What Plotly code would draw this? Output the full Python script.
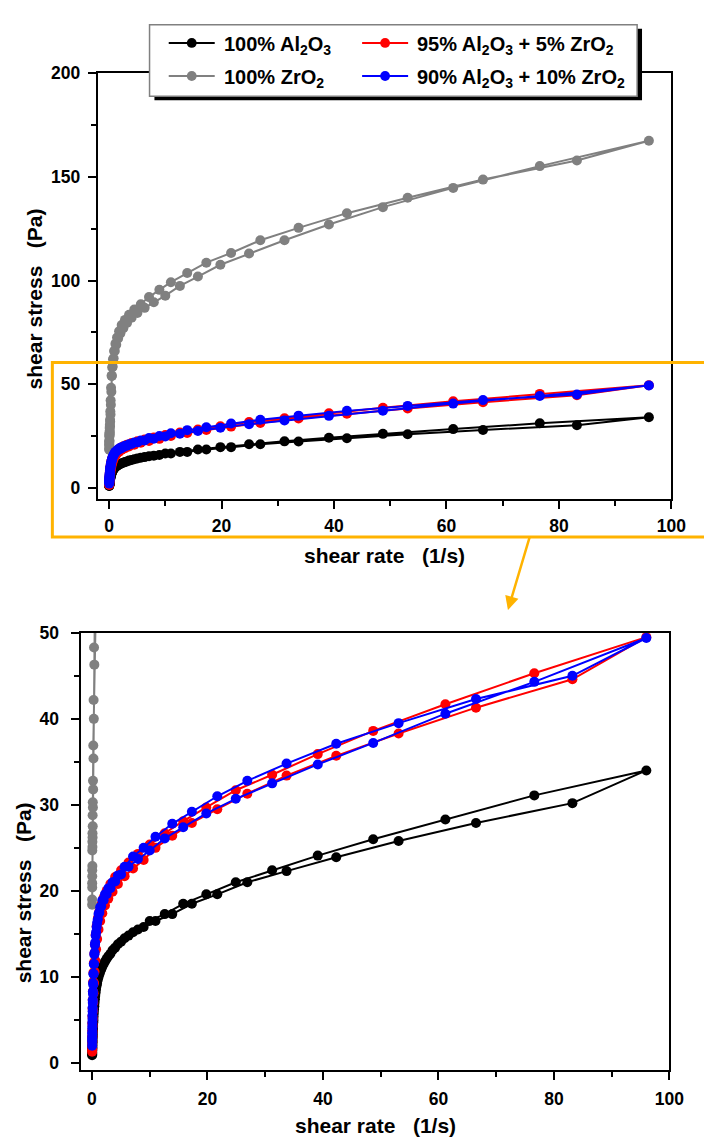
import plotly.graph_objects as go

# ---------------- data ----------------
shear_rate_up = [0.029, 0.036, 0.046, 0.057, 0.072, 0.090, 0.113, 0.142, 0.179, 0.225,
                 0.283, 0.357, 0.449, 0.565, 0.711, 0.895, 1.13, 1.42, 1.79, 2.25,
                 2.83, 3.56, 4.49, 5.65, 7.11, 8.95, 11.0, 13.9, 17.3, 21.7,
                 26.9, 33.7, 42.3, 53.1, 66.5, 83.2]
shear_rate_down = [96.0, 76.6, 61.2, 48.7, 39.1, 31.2, 24.9, 19.8, 15.8, 12.6,
                   10.0, 7.96, 6.33, 5.04, 4.01, 3.19, 2.54, 2.02, 1.61, 1.28,
                   1.02, 0.81, 0.64, 0.51, 0.41, 0.32, 0.26, 0.20, 0.163, 0.130,
                   0.103, 0.082, 0.065, 0.052, 0.041, 0.033]

al2o3_up = [0.9, 1.1, 1.4, 1.7, 2.0, 2.4, 2.9, 3.4, 4.0, 4.7, 5.4, 6.2, 7.0, 7.8, 8.6, 9.3,
            10.0, 10.6, 11.2, 11.8, 12.4, 13.1, 13.8, 14.5, 15.2, 15.8, 16.5, 17.3, 18.5,
            19.6, 21.0, 22.3, 23.9, 25.8, 27.9, 30.2]
al2o3_down = [34.0, 31.1, 28.3, 26.0, 24.1, 22.4, 21.0, 19.6, 18.5, 17.3, 16.5, 15.5, 14.8,
              14.1, 13.4, 12.7, 12.1, 11.5, 10.9, 10.3, 9.7, 9.0, 8.2, 7.4, 6.6, 5.8, 5.0,
              4.3, 3.7, 3.1, 2.6, 2.2, 1.8, 1.5, 1.2, 1.0]

zr5_up = [1.3, 1.6, 2.0, 2.5, 3.0, 3.6, 4.3, 5.1, 6.0, 7.0, 8.1, 9.3, 10.6, 11.9, 13.2, 14.4,
          15.5, 16.5, 17.4, 18.3, 19.1, 19.9, 20.8, 21.7, 22.6, 23.6, 25.0, 26.4, 27.9,
          29.5, 31.3, 33.4, 35.7, 38.3, 41.3, 44.6]
zr5_down = [49.5, 45.3, 41.7, 38.6, 35.9, 33.5, 31.7, 29.7, 28.1, 26.7, 25.4, 24.3, 23.3,
            22.4, 21.6, 20.8, 20.0, 19.2, 18.4, 17.6, 16.8, 15.9, 14.9, 13.8, 12.7, 11.6,
            10.5, 9.4, 8.3, 7.3, 6.3, 5.4, 4.6, 3.8, 3.1, 2.5]

zro2_up = [18.4, 20.9, 22.4, 24.7, 25.7, 26.7, 28.8, 30.3, 32.8, 36.9, 42.2, 48.3, 54.0,
           58.0, 62.0, 66.0, 69.5, 72.5, 75.5, 78.5, 81.0, 83.5, 86.0, 88.5, 92.0, 95.5,
           99.2, 103.6, 108.6, 113.3, 119.4, 125.4, 132.5, 139.9, 148.7, 157.9]
zro2_down = [167.4, 155.2, 144.7, 135.4, 127.0, 119.4, 113.0, 107.6, 101.9, 97.4, 92.7,
             89.5, 86.8, 84.3, 82.0, 79.5, 77.0, 74.5, 72.0, 69.0, 66.0, 62.5, 58.5, 54.0,
             46.3, 40.0, 35.4, 31.8, 29.7, 27.5, 26.2, 25.1, 22.9, 21.7, 20.4, 19.0]

zr10_up = [2.0, 2.5, 3.0, 3.6, 4.3, 5.1, 6.0, 7.0, 8.0, 9.1, 10.3, 11.5, 12.8, 14.0, 15.2,
           16.3, 17.3, 18.1, 18.9, 19.6, 20.3, 21.0, 21.8, 22.8, 24.0, 25.0, 26.3, 27.8,
           29.2, 31.0, 32.8, 34.8, 37.1, 39.5, 42.3, 45.0]
zr10_down = [49.4, 44.3, 40.6, 37.2, 34.7, 32.5, 30.7, 29.0, 27.4, 26.1, 24.7, 23.7, 22.8,
             21.9, 21.1, 20.3, 19.6, 18.9, 18.2, 17.5, 16.7, 15.8, 14.8, 13.7, 12.6, 11.5,
             10.4, 9.3, 8.3, 7.3, 6.4, 5.5, 4.7, 4.0, 3.4, 2.8]

series_names = ["100% Al<sub>2</sub>O<sub>3</sub>",
                "95% Al<sub>2</sub>O<sub>3</sub> + 5% ZrO<sub>2</sub>",
                "100% ZrO<sub>2</sub>",
                "90% Al<sub>2</sub>O<sub>3</sub> + 10% ZrO<sub>2</sub>"]
series_colors = ["#000000", "#ff0000", "#808080", "#0000ff"]
series_up = [al2o3_up, zr5_up, zro2_up, zr10_up]
series_down = [al2o3_down, zr5_down, zro2_down, zr10_down]

x_ticks = [0, 20, 40, 60, 80, 100]
y_ticks_top = [0, 50, 100, 150, 200]
y_ticks_bottom = [0, 10, 20, 30, 40, 50]

# ---------------- figure ----------------
W, H = 704, 1142
def px(v):
    return v / W
def py(v):
    return 1 - v / H

FONT = "Liberation Sans"
ORANGE = "#FFB300"

fig = go.Figure()
for name, col, up, down in zip(series_names, series_colors, series_up, series_down):
    xs = shear_rate_up + shear_rate_down
    ys = up + down
    for xa, ya in (("x", "y"), ("x2", "y2")):
        fig.add_trace(go.Scatter(
            x=xs, y=ys, mode="lines+markers", name=name,
            line=dict(color=col, width=2),
            marker=dict(color=col, size=10, line=dict(width=0)),
            xaxis=xa, yaxis=ya, showlegend=False, hoverinfo="skip"))

tickfont = dict(family=FONT, size=17.5, color="black", weight="bold")
common = dict(showline=True, linecolor="black", linewidth=1.6, mirror=True,
              ticks="outside", ticklen=8, tickwidth=1.5, tickcolor="black",
              showgrid=False, zeroline=False, tickfont=tickfont)

fig.update_layout(
    width=W, height=H, margin=dict(l=0, r=0, t=0, b=0),
    paper_bgcolor="white", plot_bgcolor="white", showlegend=False,
    xaxis=dict(domain=[px(99.7), px(686)], range=[-2.04, 100], anchor="y",
               tickvals=x_ticks, ticklabelstandoff=2,
               minor=dict(ticks="outside", ticklen=5, tickwidth=1.5, tickcolor="black",
                          dtick=10, tick0=0), **common),
    yaxis=dict(domain=[py(495), py(64)], range=[-5.6, 200], anchor="x",
               tickvals=y_ticks_top, ticklabelstandoff=4,
               minor=dict(ticks="outside", ticklen=5, tickwidth=1.5, tickcolor="black",
                          dtick=25, tick0=0), **common),
    xaxis2=dict(domain=[px(83), px(684)], range=[-1.86, 100], anchor="y2",
                tickvals=x_ticks, ticklabelstandoff=4,
                minor=dict(ticks="outside", ticklen=5, tickwidth=1.5, tickcolor="black",
                           dtick=10, tick0=0), **common),
    yaxis2=dict(domain=[py(1072), py(630)], range=[-0.8, 50], anchor="x2",
                tickvals=y_ticks_bottom, ticklabelstandoff=9,
                minor=dict(ticks="outside", ticklen=5, tickwidth=1.5, tickcolor="black",
                           dtick=5, tick0=0), **common),
)

NB = "\u00a0"
title_font = dict(family=FONT, size=21, color="black", weight="bold")
xtitle = "shear rate" + NB * 3 + "(1/s)"
ytitle = "shear stress" + NB * 3 + "(Pa)"
annots = [
    dict(text=xtitle, x=px(392.7), y=py(551.7)),
    dict(text=xtitle, x=px(383.3), y=py(1128)),
    dict(text=ytitle, x=px(35), y=py(292.5), textangle=-90),
    dict(text=ytitle, x=px(24), y=py(893), textangle=-90),
]
for a in annots:
    fig.add_annotation(xref="paper", yref="paper", showarrow=False,
                       xanchor="center", yanchor="middle", font=title_font, **a)

shapes = []
# zoom box and arrow
shapes.append(dict(type="rect", xref="paper", yref="paper", layer="above",
                   x0=px(53.5), x1=px(730), y0=py(533), y1=py(356.5),
                   line=dict(color=ORANGE, width=3), fillcolor="rgba(0,0,0,0)"))
fig.add_annotation(xref="paper", yref="paper", x=px(519), y=py(607), text="",
                   showarrow=True, axref="pixel", ayref="pixel", ax=22, ay=-74,
                   arrowcolor=ORANGE, arrowwidth=2.5, arrowhead=2, arrowsize=1.1)

# legend box (with drop shadow)
LX0, LX1, LY0, LY1 = 152.8, 651, 15, 87.3
shapes.append(dict(type="rect", xref="paper", yref="paper", layer="above",
                   x0=px(LX0 + 5), x1=px(LX1 + 5), y0=py(LY1 + 4), y1=py(LY0 + 4),
                   line=dict(width=0), fillcolor="black"))
shapes.append(dict(type="rect", xref="paper", yref="paper", layer="above",
                   x0=px(LX0), x1=px(LX1), y0=py(LY1), y1=py(LY0),
                   line=dict(color="#808080", width=1.5), fillcolor="white"))

legend_pos = [(172.4, 33.3), (370, 33.3), (172.4, 66.7), (370, 66.7)]
leg_font = dict(family=FONT, size=20, color="black", weight="bold")
for (lx, ly), name, col in zip(legend_pos, series_names, series_colors):
    shapes.append(dict(type="line", xref="paper", yref="paper", layer="above",
                       x0=px(lx), x1=px(lx + 47), y0=py(ly), y1=py(ly),
                       line=dict(color=col, width=2)))
    cx = lx + 23.5
    shapes.append(dict(type="circle", xref="paper", yref="paper", layer="above",
                       x0=px(cx - 5), x1=px(cx + 5), y0=py(ly + 5), y1=py(ly - 5),
                       line=dict(width=0), fillcolor=col))
    fig.add_annotation(xref="paper", yref="paper", showarrow=False, text=name,
                       x=px(lx + 54), y=py(ly + 3), xanchor="left", yanchor="middle",
                       font=leg_font)

fig.update_layout(shapes=shapes)
fig.write_html("out.html")
